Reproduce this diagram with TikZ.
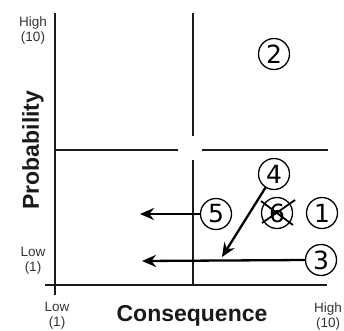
\documentclass[tikz,border=0pt]{standalone}
\usepackage{fontspec}
\setmainfont{Liberation Sans}
\newfontfamily\digitfont{DejaVu Sans}
\usetikzlibrary{arrows.meta}
\definecolor{ink}{HTML}{1A1A1A}
\definecolor{labelgray}{HTML}{333333}
\begin{document}
\begin{tikzpicture}[x=1pt,y=-1pt,
  axis/.style={line width=2pt,draw=ink},
  midline/.style={line width=1.7pt,draw=ink},
  item/.style={circle,draw=black,line width=1.3pt,minimum size=31pt,inner sep=0pt,font=\digitfont\fontsize{25}{25}\selectfont},
  moveto/.style={line width=2.3pt,draw=black,-{Stealth[length=14pt,width=12pt]}},
  ticklabel/.style={align=center,text=labelgray,font=\fontsize{13.5}{15}\selectfont},
  axistitle/.style={font=\bfseries\fontsize{23}{23}\selectfont,text=ink}]
\useasboundingbox (0,0) rectangle (344,330);
% axes
\coordinate (ytop) at (55,13);
\coordinate (ybot) at (55,295);
\coordinate (xleft) at (45,285);
\coordinate (xright) at (327,285);
\draw[axis] (ytop) -- (ybot);
\draw[axis] (xleft) -- (xright);
% mid lines
\coordinate (hl1) at (55,150);
\coordinate (hl2) at (178,150);
\coordinate (hr1) at (202,150);
\coordinate (hr2) at (328,150);
\coordinate (vt1) at (193,13);
\coordinate (vt2) at (193,136);
\coordinate (vb1) at (193,160);
\coordinate (vb2) at (193,285);
\draw[midline] (hl1) -- (hl2);
\draw[midline] (hr1) -- (hr2);
\draw[midline] (vt1) -- (vt2);
\draw[midline] (vb1) -- (vb2);
% labels
\node[ticklabel] (yhigh) at (33,31) {High\\(10)};
\node[ticklabel] (ylow) at (33,261) {Low\\(1)};
\node[ticklabel] (xlow) at (57,316) {Low\\(1)};
\node[ticklabel] (xhigh) at (328,316) {High\\(10)};
\node[axistitle] (xtitle) at (192,316) {Consequence};
\node[axistitle,rotate=90] (ytitle) at (33,150) {Probability};
% items
\node[item] (n2) at (274,54) {2};
\node[item] (n4) at (274,174) {4};
\node[item] (n5) at (216,214) {5};
\node[item] (n6) at (277,213) {6};
\node[item] (n1) at (322,213) {1};
\node[item] (n3) at (321,260) {3};
% cross out 6
\coordinate (c1) at (261,201);
\coordinate (c2) at (293,225);
\coordinate (c3) at (295,200);
\coordinate (c4) at (262,223);
\draw[line width=1.8pt] (c1) -- (c2);
\draw[line width=1.8pt] (c3) -- (c4);
% arrows
\coordinate (t5) at (140,214);
\coordinate (t3) at (142,261);
\coordinate (t4) at (222,257);
\draw[moveto] (n5) -- (t5);
\draw[moveto] (n3.west) -- (t3);
\draw[moveto] (n4) -- (t4);
\end{tikzpicture}
\end{document}
